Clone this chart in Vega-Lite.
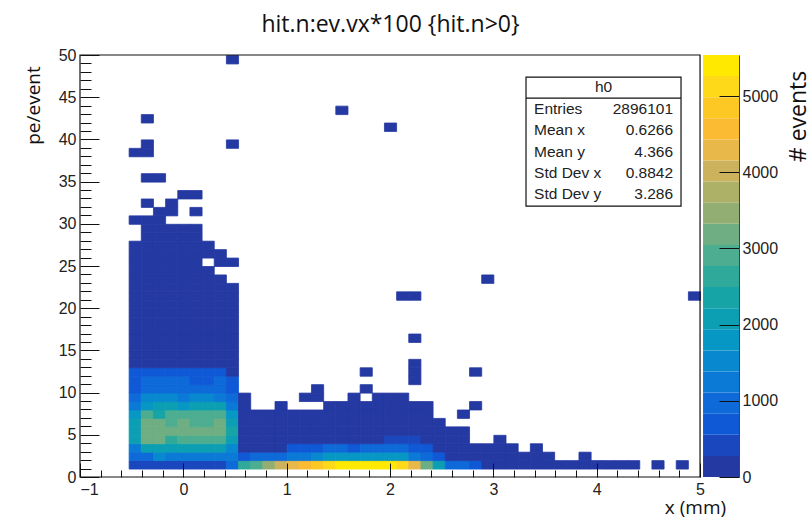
{"$schema":"https://vega.github.io/schema/vega-lite/v6.json","width":659,"height":422,"autosize":{"type":"none"},"padding":{"left":80,"top":55,"right":68,"bottom":40},"background":"white",
"title":{"text":"hit.n:ev.vx*100 {hit.n>0}","font":"Open Sans","fontSize":23,"fontWeight":"normal","color":"#111","anchor":"middle","dx":-19,"offset":10},
"config":{"view":{"stroke":null},"axis":{"labelFont":"Liberation Sans","labelFontSize":16,"labelColor":"#222","titleFont":"Open Sans","titleFontWeight":"normal","titleColor":"#111","titleFontSize":19,"grid":false,"tickColor":"#111","domainColor":"#111"}},
"datasets":{
"cells":[
{"x":-0.47,"y":1.5,"n":500},{"x":-0.47,"y":2.5,"n":900},{"x":-0.47,"y":3.5,"n":1300},{"x":-0.47,"y":4.5,"n":2000},{"x":-0.47,"y":5.5,"n":2000},{"x":-0.47,"y":6.5,"n":2000},{"x":-0.47,"y":7.5,"n":1700},{"x":-0.47,"y":8.5,"n":1300},{"x":-0.47,"y":9.5,"n":950},{"x":-0.47,"y":10.5,"n":800},{"x":-0.47,"y":11.5,"n":700},{"x":-0.47,"y":12.5,"n":600},
{"x":-0.35,"y":1.5,"n":500},{"x":-0.35,"y":2.5,"n":1000},{"x":-0.35,"y":3.5,"n":2000},{"x":-0.35,"y":4.5,"n":3100},{"x":-0.35,"y":5.5,"n":3250},{"x":-0.35,"y":6.5,"n":3250},{"x":-0.35,"y":7.5,"n":2900},{"x":-0.35,"y":8.5,"n":1800},{"x":-0.35,"y":9.5,"n":1500},{"x":-0.35,"y":10.5,"n":1100},{"x":-0.35,"y":11.5,"n":950},{"x":-0.35,"y":12.5,"n":600},
{"x":-0.24,"y":1.5,"n":500},{"x":-0.24,"y":2.5,"n":1400},{"x":-0.24,"y":3.5,"n":2000},{"x":-0.24,"y":4.5,"n":3100},{"x":-0.24,"y":5.5,"n":3250},{"x":-0.24,"y":6.5,"n":3250},{"x":-0.24,"y":7.5,"n":2300},{"x":-0.24,"y":8.5,"n":2100},{"x":-0.24,"y":9.5,"n":1500},{"x":-0.24,"y":10.5,"n":1100},{"x":-0.24,"y":11.5,"n":950},{"x":-0.24,"y":12.5,"n":600},
{"x":-0.12,"y":1.5,"n":500},{"x":-0.12,"y":2.5,"n":1200},{"x":-0.12,"y":3.5,"n":2000},{"x":-0.12,"y":4.5,"n":2700},{"x":-0.12,"y":5.5,"n":3250},{"x":-0.12,"y":6.5,"n":2900},{"x":-0.12,"y":7.5,"n":2800},{"x":-0.12,"y":8.5,"n":2100},{"x":-0.12,"y":9.5,"n":1500},{"x":-0.12,"y":10.5,"n":1100},{"x":-0.12,"y":11.5,"n":950},{"x":-0.12,"y":12.5,"n":600},
{"x":0,"y":1.5,"n":500},{"x":0,"y":2.5,"n":1300},{"x":0,"y":3.5,"n":2000},{"x":0,"y":4.5,"n":3000},{"x":0,"y":5.5,"n":3250},{"x":0,"y":6.5,"n":3250},{"x":0,"y":7.5,"n":2800},{"x":0,"y":8.5,"n":1800},{"x":0,"y":9.5,"n":1300},{"x":0,"y":10.5,"n":1100},{"x":0,"y":11.5,"n":950},{"x":0,"y":12.5,"n":600},
{"x":0.12,"y":1.5,"n":500},{"x":0.12,"y":2.5,"n":1200},{"x":0.12,"y":3.5,"n":2000},{"x":0.12,"y":4.5,"n":3000},{"x":0.12,"y":5.5,"n":3250},{"x":0.12,"y":6.5,"n":3000},{"x":0.12,"y":7.5,"n":2800},{"x":0.12,"y":8.5,"n":2100},{"x":0.12,"y":9.5,"n":1400},{"x":0.12,"y":10.5,"n":1100},{"x":0.12,"y":11.5,"n":700},{"x":0.12,"y":12.5,"n":600},
{"x":0.24,"y":1.5,"n":500},{"x":0.24,"y":2.5,"n":1200},{"x":0.24,"y":3.5,"n":2000},{"x":0.24,"y":4.5,"n":3000},{"x":0.24,"y":5.5,"n":3250},{"x":0.24,"y":6.5,"n":3000},{"x":0.24,"y":7.5,"n":2800},{"x":0.24,"y":8.5,"n":2100},{"x":0.24,"y":9.5,"n":1400},{"x":0.24,"y":10.5,"n":1100},{"x":0.24,"y":11.5,"n":700},{"x":0.24,"y":12.5,"n":600},
{"x":0.35,"y":1.5,"n":500},{"x":0.35,"y":2.5,"n":1200},{"x":0.35,"y":3.5,"n":2000},{"x":0.35,"y":4.5,"n":3000},{"x":0.35,"y":5.5,"n":3250},{"x":0.35,"y":6.5,"n":3250},{"x":0.35,"y":7.5,"n":2800},{"x":0.35,"y":8.5,"n":2000},{"x":0.35,"y":9.5,"n":1300},{"x":0.35,"y":10.5,"n":1100},{"x":0.35,"y":11.5,"n":950},{"x":0.35,"y":12.5,"n":600},
{"x":0.47,"y":1.5,"n":1100},{"x":0.47,"y":2.5,"n":1200},{"x":0.47,"y":3.5,"n":1500},{"x":0.47,"y":4.5,"n":2100},{"x":0.47,"y":5.5,"n":2400},{"x":0.47,"y":6.5,"n":2200},{"x":0.47,"y":7.5,"n":1900},{"x":0.47,"y":8.5,"n":1300},{"x":0.47,"y":9.5,"n":1000},{"x":0.47,"y":10.5,"n":800},{"x":0.47,"y":11.5,"n":700},{"x":0.47,"y":12.5,"n":200},
{"x":-0.47,"y":13.5,"n":150},{"x":-0.47,"y":14.5,"n":140},{"x":-0.47,"y":15.5,"n":120},{"x":-0.47,"y":16.5,"n":100},{"x":-0.47,"y":17.5,"n":90},{"x":-0.47,"y":18.5,"n":80},{"x":-0.47,"y":19.5,"n":60},{"x":-0.47,"y":20.5,"n":50},{"x":-0.47,"y":21.5,"n":40},{"x":-0.47,"y":22.5,"n":30},{"x":-0.47,"y":23.5,"n":20},{"x":-0.47,"y":24.5,"n":15},{"x":-0.47,"y":25.5,"n":10},{"x":-0.47,"y":26.5,"n":6},{"x":-0.47,"y":27.5,"n":3},{"x":-0.47,"y":30.5,"n":1},{"x":-0.47,"y":38.5,"n":1},
{"x":-0.35,"y":13.5,"n":200},{"x":-0.35,"y":14.5,"n":180},{"x":-0.35,"y":15.5,"n":160},{"x":-0.35,"y":16.5,"n":140},{"x":-0.35,"y":17.5,"n":120},{"x":-0.35,"y":18.5,"n":100},{"x":-0.35,"y":19.5,"n":80},{"x":-0.35,"y":20.5,"n":70},{"x":-0.35,"y":21.5,"n":60},{"x":-0.35,"y":22.5,"n":45},{"x":-0.35,"y":23.5,"n":35},{"x":-0.35,"y":24.5,"n":25},{"x":-0.35,"y":25.5,"n":18},{"x":-0.35,"y":26.5,"n":12},{"x":-0.35,"y":27.5,"n":8},{"x":-0.35,"y":28.5,"n":5},{"x":-0.35,"y":29.5,"n":3},{"x":-0.35,"y":30.5,"n":2},{"x":-0.35,"y":32.5,"n":1},{"x":-0.35,"y":35.5,"n":1},{"x":-0.35,"y":38.5,"n":1},{"x":-0.35,"y":39.5,"n":1},{"x":-0.35,"y":42.5,"n":1},
{"x":-0.24,"y":13.5,"n":200},{"x":-0.24,"y":14.5,"n":180},{"x":-0.24,"y":15.5,"n":160},{"x":-0.24,"y":16.5,"n":140},{"x":-0.24,"y":17.5,"n":120},{"x":-0.24,"y":18.5,"n":100},{"x":-0.24,"y":19.5,"n":80},{"x":-0.24,"y":20.5,"n":70},{"x":-0.24,"y":21.5,"n":60},{"x":-0.24,"y":22.5,"n":45},{"x":-0.24,"y":23.5,"n":35},{"x":-0.24,"y":24.5,"n":25},{"x":-0.24,"y":25.5,"n":18},{"x":-0.24,"y":26.5,"n":12},{"x":-0.24,"y":27.5,"n":8},{"x":-0.24,"y":28.5,"n":5},{"x":-0.24,"y":29.5,"n":3},{"x":-0.24,"y":30.5,"n":2},{"x":-0.24,"y":31.5,"n":1},{"x":-0.24,"y":35.5,"n":1},
{"x":-0.12,"y":13.5,"n":200},{"x":-0.12,"y":14.5,"n":180},{"x":-0.12,"y":15.5,"n":160},{"x":-0.12,"y":16.5,"n":140},{"x":-0.12,"y":17.5,"n":120},{"x":-0.12,"y":18.5,"n":100},{"x":-0.12,"y":19.5,"n":80},{"x":-0.12,"y":20.5,"n":70},{"x":-0.12,"y":21.5,"n":60},{"x":-0.12,"y":22.5,"n":45},{"x":-0.12,"y":23.5,"n":35},{"x":-0.12,"y":24.5,"n":25},{"x":-0.12,"y":25.5,"n":18},{"x":-0.12,"y":26.5,"n":12},{"x":-0.12,"y":27.5,"n":8},{"x":-0.12,"y":28.5,"n":5},{"x":-0.12,"y":29.5,"n":3},{"x":-0.12,"y":31.5,"n":1},{"x":-0.12,"y":32.5,"n":1},
{"x":0,"y":13.5,"n":200},{"x":0,"y":14.5,"n":180},{"x":0,"y":15.5,"n":160},{"x":0,"y":16.5,"n":140},{"x":0,"y":17.5,"n":120},{"x":0,"y":18.5,"n":100},{"x":0,"y":19.5,"n":80},{"x":0,"y":20.5,"n":70},{"x":0,"y":21.5,"n":60},{"x":0,"y":22.5,"n":45},{"x":0,"y":23.5,"n":35},{"x":0,"y":24.5,"n":25},{"x":0,"y":25.5,"n":18},{"x":0,"y":26.5,"n":12},{"x":0,"y":27.5,"n":8},{"x":0,"y":28.5,"n":5},{"x":0,"y":29.5,"n":3},{"x":0,"y":33.5,"n":1},
{"x":0.12,"y":13.5,"n":200},{"x":0.12,"y":14.5,"n":180},{"x":0.12,"y":15.5,"n":160},{"x":0.12,"y":16.5,"n":140},{"x":0.12,"y":17.5,"n":120},{"x":0.12,"y":18.5,"n":100},{"x":0.12,"y":19.5,"n":80},{"x":0.12,"y":20.5,"n":70},{"x":0.12,"y":21.5,"n":60},{"x":0.12,"y":22.5,"n":45},{"x":0.12,"y":23.5,"n":35},{"x":0.12,"y":24.5,"n":25},{"x":0.12,"y":25.5,"n":18},{"x":0.12,"y":26.5,"n":12},{"x":0.12,"y":27.5,"n":8},{"x":0.12,"y":28.5,"n":5},{"x":0.12,"y":29.5,"n":2},{"x":0.12,"y":31.5,"n":1},{"x":0.12,"y":33.5,"n":1},
{"x":0.24,"y":13.5,"n":190},{"x":0.24,"y":14.5,"n":170},{"x":0.24,"y":15.5,"n":150},{"x":0.24,"y":16.5,"n":130},{"x":0.24,"y":17.5,"n":110},{"x":0.24,"y":18.5,"n":90},{"x":0.24,"y":19.5,"n":70},{"x":0.24,"y":20.5,"n":60},{"x":0.24,"y":21.5,"n":50},{"x":0.24,"y":22.5,"n":35},{"x":0.24,"y":23.5,"n":25},{"x":0.24,"y":24.5,"n":15},{"x":0.24,"y":26.5,"n":3},{"x":0.24,"y":27.5,"n":2},
{"x":0.35,"y":13.5,"n":180},{"x":0.35,"y":14.5,"n":160},{"x":0.35,"y":15.5,"n":140},{"x":0.35,"y":16.5,"n":120},{"x":0.35,"y":17.5,"n":100},{"x":0.35,"y":18.5,"n":80},{"x":0.35,"y":19.5,"n":60},{"x":0.35,"y":20.5,"n":50},{"x":0.35,"y":21.5,"n":40},{"x":0.35,"y":22.5,"n":25},{"x":0.35,"y":23.5,"n":15},{"x":0.35,"y":25.5,"n":3},{"x":0.35,"y":26.5,"n":2},
{"x":0.47,"y":13.5,"n":120},{"x":0.47,"y":14.5,"n":100},{"x":0.47,"y":15.5,"n":90},{"x":0.47,"y":16.5,"n":70},{"x":0.47,"y":17.5,"n":55},{"x":0.47,"y":18.5,"n":40},{"x":0.47,"y":19.5,"n":30},{"x":0.47,"y":20.5,"n":20},{"x":0.47,"y":21.5,"n":12},{"x":0.47,"y":22.5,"n":6},{"x":0.47,"y":25.5,"n":1},{"x":0.47,"y":39.5,"n":1},{"x":0.47,"y":49.5,"n":1},
{"x":0.59,"y":1.5,"n":2500},{"x":0.59,"y":2.5,"n":600},{"x":0.59,"y":3.5,"n":200},{"x":0.59,"y":4.5,"n":120},{"x":0.59,"y":5.5,"n":70},{"x":0.59,"y":6.5,"n":40},{"x":0.59,"y":7.5,"n":20},{"x":0.59,"y":8.5,"n":8},{"x":0.59,"y":9.5,"n":2},
{"x":0.71,"y":1.5,"n":2800},{"x":0.71,"y":2.5,"n":900},{"x":0.71,"y":3.5,"n":200},{"x":0.71,"y":4.5,"n":120},{"x":0.71,"y":5.5,"n":70},{"x":0.71,"y":6.5,"n":30},{"x":0.71,"y":7.5,"n":8},
{"x":0.82,"y":1.5,"n":3400},{"x":0.82,"y":2.5,"n":900},{"x":0.82,"y":3.5,"n":200},{"x":0.82,"y":4.5,"n":120},{"x":0.82,"y":5.5,"n":70},{"x":0.82,"y":6.5,"n":30},{"x":0.82,"y":7.5,"n":8},
{"x":0.94,"y":1.5,"n":3900},{"x":0.94,"y":2.5,"n":1000},{"x":0.94,"y":3.5,"n":200},{"x":0.94,"y":4.5,"n":130},{"x":0.94,"y":5.5,"n":70},{"x":0.94,"y":6.5,"n":30},{"x":0.94,"y":7.5,"n":10},{"x":0.94,"y":8.5,"n":2},
{"x":1.06,"y":1.5,"n":4400},{"x":1.06,"y":2.5,"n":1300},{"x":1.06,"y":3.5,"n":700},{"x":1.06,"y":4.5,"n":150},{"x":1.06,"y":5.5,"n":80},{"x":1.06,"y":6.5,"n":35},{"x":1.06,"y":7.5,"n":10},
{"x":1.18,"y":1.5,"n":4700},{"x":1.18,"y":2.5,"n":1300},{"x":1.18,"y":3.5,"n":700},{"x":1.18,"y":4.5,"n":150},{"x":1.18,"y":5.5,"n":80},{"x":1.18,"y":6.5,"n":35},{"x":1.18,"y":7.5,"n":10},{"x":1.18,"y":9.5,"n":1},
{"x":1.29,"y":1.5,"n":4900},{"x":1.29,"y":2.5,"n":1500},{"x":1.29,"y":3.5,"n":700},{"x":1.29,"y":4.5,"n":160},{"x":1.29,"y":5.5,"n":80},{"x":1.29,"y":6.5,"n":35},{"x":1.29,"y":7.5,"n":10},{"x":1.29,"y":9.5,"n":1},{"x":1.29,"y":10.5,"n":1},
{"x":1.41,"y":1.5,"n":5100},{"x":1.41,"y":2.5,"n":1700},{"x":1.41,"y":3.5,"n":900},{"x":1.41,"y":4.5,"n":180},{"x":1.41,"y":5.5,"n":90},{"x":1.41,"y":6.5,"n":40},{"x":1.41,"y":7.5,"n":15},{"x":1.41,"y":8.5,"n":3},
{"x":1.53,"y":1.5,"n":5300},{"x":1.53,"y":2.5,"n":1800},{"x":1.53,"y":3.5,"n":900},{"x":1.53,"y":4.5,"n":180},{"x":1.53,"y":5.5,"n":90},{"x":1.53,"y":6.5,"n":40},{"x":1.53,"y":7.5,"n":15},{"x":1.53,"y":8.5,"n":3},{"x":1.53,"y":43.5,"n":1},
{"x":1.65,"y":1.5,"n":5500},{"x":1.65,"y":2.5,"n":1900},{"x":1.65,"y":3.5,"n":800},{"x":1.65,"y":4.5,"n":200},{"x":1.65,"y":5.5,"n":100},{"x":1.65,"y":6.5,"n":45},{"x":1.65,"y":7.5,"n":20},{"x":1.65,"y":8.5,"n":6},{"x":1.65,"y":9.5,"n":2},
{"x":1.76,"y":1.5,"n":5500},{"x":1.76,"y":2.5,"n":1900},{"x":1.76,"y":3.5,"n":950},{"x":1.76,"y":4.5,"n":220},{"x":1.76,"y":5.5,"n":110},{"x":1.76,"y":6.5,"n":50},{"x":1.76,"y":7.5,"n":20},{"x":1.76,"y":8.5,"n":4},{"x":1.76,"y":10.5,"n":1},{"x":1.76,"y":12.5,"n":1},
{"x":1.88,"y":1.5,"n":5500},{"x":1.88,"y":2.5,"n":1900},{"x":1.88,"y":3.5,"n":950},{"x":1.88,"y":4.5,"n":240},{"x":1.88,"y":5.5,"n":110},{"x":1.88,"y":6.5,"n":50},{"x":1.88,"y":7.5,"n":20},{"x":1.88,"y":8.5,"n":6},{"x":1.88,"y":9.5,"n":2},
{"x":2,"y":1.5,"n":5500},{"x":2,"y":2.5,"n":1900},{"x":2,"y":3.5,"n":950},{"x":2,"y":4.5,"n":500},{"x":2,"y":5.5,"n":120},{"x":2,"y":6.5,"n":50},{"x":2,"y":7.5,"n":20},{"x":2,"y":8.5,"n":6},{"x":2,"y":9.5,"n":2},{"x":2,"y":41.5,"n":1},
{"x":2.12,"y":1.5,"n":5100},{"x":2.12,"y":2.5,"n":1800},{"x":2.12,"y":3.5,"n":900},{"x":2.12,"y":4.5,"n":500},{"x":2.12,"y":5.5,"n":110},{"x":2.12,"y":6.5,"n":50},{"x":2.12,"y":7.5,"n":20},{"x":2.12,"y":8.5,"n":6},{"x":2.12,"y":9.5,"n":2},{"x":2.12,"y":21.5,"n":1},
{"x":2.24,"y":1.5,"n":4400},{"x":2.24,"y":2.5,"n":1200},{"x":2.24,"y":3.5,"n":800},{"x":2.24,"y":4.5,"n":500},{"x":2.24,"y":5.5,"n":90},{"x":2.24,"y":6.5,"n":40},{"x":2.24,"y":7.5,"n":15},{"x":2.24,"y":8.5,"n":3},{"x":2.24,"y":11.5,"n":1},{"x":2.24,"y":12.5,"n":1},{"x":2.24,"y":13.5,"n":1},{"x":2.24,"y":16.5,"n":1},{"x":2.24,"y":21.5,"n":1},
{"x":2.35,"y":1.5,"n":3100},{"x":2.35,"y":2.5,"n":1000},{"x":2.35,"y":3.5,"n":600},{"x":2.35,"y":4.5,"n":200},{"x":2.35,"y":5.5,"n":60},{"x":2.35,"y":6.5,"n":25},{"x":2.35,"y":7.5,"n":8},{"x":2.35,"y":8.5,"n":2},
{"x":2.47,"y":1.5,"n":2000},{"x":2.47,"y":2.5,"n":700},{"x":2.47,"y":3.5,"n":200},{"x":2.47,"y":4.5,"n":100},{"x":2.47,"y":5.5,"n":30},{"x":2.47,"y":6.5,"n":5},
{"x":2.59,"y":1.5,"n":1100},{"x":2.59,"y":2.5,"n":250},{"x":2.59,"y":3.5,"n":100},{"x":2.59,"y":4.5,"n":30},{"x":2.59,"y":5.5,"n":5},
{"x":2.71,"y":1.5,"n":950},{"x":2.71,"y":2.5,"n":200},{"x":2.71,"y":3.5,"n":60},{"x":2.71,"y":4.5,"n":15},{"x":2.71,"y":5.5,"n":3},{"x":2.71,"y":7.5,"n":1},
{"x":2.82,"y":1.5,"n":700},{"x":2.82,"y":2.5,"n":120},{"x":2.82,"y":3.5,"n":10},{"x":2.82,"y":8.5,"n":1},{"x":2.82,"y":12.5,"n":1},
{"x":2.94,"y":1.5,"n":200},{"x":2.94,"y":2.5,"n":60},{"x":2.94,"y":3.5,"n":5},{"x":2.94,"y":23.5,"n":1},
{"x":3.06,"y":1.5,"n":150},{"x":3.06,"y":2.5,"n":40},{"x":3.06,"y":3.5,"n":5},{"x":3.06,"y":4.5,"n":1},
{"x":3.18,"y":1.5,"n":100},{"x":3.18,"y":2.5,"n":25},{"x":3.18,"y":3.5,"n":2},
{"x":3.29,"y":1.5,"n":70},{"x":3.29,"y":2.5,"n":12},
{"x":3.41,"y":1.5,"n":50},{"x":3.41,"y":2.5,"n":8},{"x":3.41,"y":3.5,"n":1},
{"x":3.53,"y":1.5,"n":30},{"x":3.53,"y":2.5,"n":4},
{"x":3.65,"y":1.5,"n":20},{"x":3.76,"y":1.5,"n":15},
{"x":3.88,"y":1.5,"n":12},{"x":3.88,"y":2.5,"n":1},
{"x":4,"y":1.5,"n":8},{"x":4.12,"y":1.5,"n":6},{"x":4.24,"y":1.5,"n":4},{"x":4.35,"y":1.5,"n":3},{"x":4.59,"y":1.5,"n":2},{"x":4.82,"y":1.5,"n":1},{"x":4.94,"y":21.5,"n":1}
],
"levels":[{"lo":0,"hi":277,"n":138},{"lo":277,"hi":554,"n":415},{"lo":554,"hi":831,"n":692},{"lo":831,"hi":1108,"n":970},{"lo":1108,"hi":1385,"n":1246},{"lo":1385,"hi":1662,"n":1523},{"lo":1662,"hi":1939,"n":1800},{"lo":1939,"hi":2216,"n":2077},{"lo":2216,"hi":2493,"n":2354},{"lo":2493,"hi":2770,"n":2631},{"lo":2770,"hi":3047,"n":2908},{"lo":3047,"hi":3324,"n":3185},{"lo":3324,"hi":3601,"n":3462},{"lo":3601,"hi":3878,"n":3739},{"lo":3878,"hi":4155,"n":4016},{"lo":4155,"hi":4432,"n":4293},{"lo":4432,"hi":4709,"n":4570},{"lo":4709,"hi":4986,"n":4847},{"lo":4986,"hi":5263,"n":5124},{"lo":5263,"hi":5540,"n":5401}],
"stats":[{"stat":"Entries","value":"2896101"},{"stat":"Mean x","value":"0.6266"},{"stat":"Mean y","value":"4.366"},{"stat":"Std Dev x","value":"0.8842"},{"stat":"Std Dev y","value":"3.286"}]
},
"layer":[
{"layer":[
{"data":{"name":"cells"},"mark":{"type":"rect","strokeWidth":0.8},"encoding":{
"x":{"field":"x","type":"quantitative","bin":{"extent":[-1,5],"step":0.117647,"nice":false},"axis":null,"scale":{"domain":[-1,5.377],"nice":false,"zero":false}},
"y":{"field":"y","type":"quantitative","bin":{"extent":[0,50],"step":1,"nice":false},"axis":null,"scale":{"domain":[0,50],"nice":false,"zero":false}},
"color":{"field":"n","type":"quantitative","legend":null,"scale":{"type":"quantize","domain":[0,5540],"range":["#2539a2","#1a47bd","#0f59d6","#0e69d9","#0b79d6","#0788cf","#0797c4","#0c9fb4","#17a4a6","#2fa99a","#4dad90","#6fae82","#93ae72","#adb067","#ccb25c","#e8b84b","#fbbb33","#fdc823","#fed91a","#ffe900"]}},
"stroke":{"field":"n","type":"quantitative","legend":null,"scale":{"type":"quantize","domain":[0,5540],"range":["#2539a2","#1a47bd","#0f59d6","#0e69d9","#0b79d6","#0788cf","#0797c4","#0c9fb4","#17a4a6","#2fa99a","#4dad90","#6fae82","#93ae72","#adb067","#ccb25c","#e8b84b","#fbbb33","#fdc823","#fed91a","#ffe900"]}}}},
{"data":{"values":[{}]},"mark":{"type":"rect","fill":null,"stroke":"#111","strokeWidth":1.2},"encoding":{
"x":{"datum":-1,"type":"quantitative","axis":{"orient":"bottom","values":[-1,0,1,2,3,4,5],"format":"d","tickSize":-14,"domain":false,"zindex":1,"labelPadding":18,"title":"x (mm)","titleX":615,"titleY":30,"titleAlign":"center","titleBaseline":"middle"}},"x2":{"datum":5},
"y":{"datum":0,"type":"quantitative","axis":{"orient":"left","values":[0,5,10,15,20,25,30,35,40,45,50],"format":"d","tickSize":-19,"domain":false,"zindex":1,"labelPadding":23,"title":"pe/event","titleX":-47,"titleY":50,"titleAngle":270,"titleAlign":"center","titleBaseline":"middle"}},"y2":{"datum":50}}},
{"data":{"values":[{}]},"mark":{"type":"rect","opacity":0},"encoding":{
"x":{"datum":0,"type":"quantitative","axis":{"orient":"bottom","values":[-0.8,-0.6,-0.4,-0.2,0.2,0.4,0.6,0.8,1.2,1.4,1.6,1.8,2.2,2.4,2.6,2.8,3.2,3.4,3.6,3.8,4.2,4.4,4.6,4.8],"labels":false,"tickSize":-7,"domain":false,"zindex":1,"title":null}},"x2":{"datum":0},
"y":{"datum":0,"type":"quantitative","axis":{"orient":"left","values":[1,2,3,4,6,7,8,9,11,12,13,14,16,17,18,19,21,22,23,24,26,27,28,29,31,32,33,34,36,37,38,39,41,42,43,44,46,47,48,49],"labels":false,"tickSize":-11,"domain":false,"zindex":1,"title":null}},"y2":{"datum":0}}},
{"data":{"values":[{}]},"mark":{"type":"rect","fill":"white","stroke":"#111","strokeWidth":1.2},"encoding":{"x":{"datum":3.316,"type":"quantitative","axis":null},"x2":{"datum":4.816},"y":{"datum":32.1,"type":"quantitative","axis":null},"y2":{"datum":47.39}}},
{"data":{"values":[{}]},"mark":{"type":"rule","stroke":"#111","strokeWidth":1.2},"encoding":{"x":{"datum":3.316,"type":"quantitative","axis":null},"x2":{"datum":4.816},"y":{"datum":44.9,"type":"quantitative","axis":null}}},
{"data":{"values":[{}]},"mark":{"type":"text","font":"Liberation Sans","fontSize":15.5,"color":"#222","baseline":"middle","align":"center"},"encoding":{"x":{"datum":4.066,"type":"quantitative","axis":null},"y":{"datum":46.2,"type":"quantitative","axis":null},"text":{"value":"h0"}}}
],"resolve":{"axis":{"x":"independent","y":"independent"}}},
{"data":{"name":"levels"},"mark":{"type":"rect","strokeWidth":0.5},"encoding":{
"x":{"datum":5.029,"type":"quantitative","axis":null},"x2":{"datum":5.377},
"y":{"field":"lo","type":"quantitative","scale":{"domain":[0,5540],"nice":false,"zero":false},"axis":{"orient":"right","values":[0,1000,2000,3000,4000,5000],"format":"d","tickSize":-20,"labelPadding":23,"domainColor":"#444","zindex":1,"title":"# events","titleFontSize":23,"titleX":59,"titleY":61,"titleAngle":270,"titleAlign":"center","titleBaseline":"middle"}},
"y2":{"field":"hi"},
"color":{"field":"n","type":"quantitative","legend":null,"scale":{"type":"quantize","domain":[0,5540],"range":["#2539a2","#1a47bd","#0f59d6","#0e69d9","#0b79d6","#0788cf","#0797c4","#0c9fb4","#17a4a6","#2fa99a","#4dad90","#6fae82","#93ae72","#adb067","#ccb25c","#e8b84b","#fbbb33","#fdc823","#fed91a","#ffe900"]}}}},
{"data":{"name":"stats"},"mark":{"type":"text","font":"Liberation Sans","fontSize":15.5,"color":"#222","align":"left","baseline":"middle"},"encoding":{
"x":{"datum":3.394,"type":"quantitative","axis":null},
"y":{"field":"stat","type":"ordinal","sort":null,"axis":null,"scale":{"type":"point","padding":0,"range":[54,139]}},
"text":{"field":"stat"}}},
{"data":{"name":"stats"},"mark":{"type":"text","font":"Liberation Sans","fontSize":15.5,"color":"#222","align":"right","baseline":"middle"},"encoding":{
"x":{"datum":4.739,"type":"quantitative","axis":null},
"y":{"field":"stat","type":"ordinal","sort":null,"axis":null,"scale":{"type":"point","padding":0,"range":[54,139]}},
"text":{"field":"value"}}}
],
"resolve":{"scale":{"y":"independent"},"axis":{"y":"independent"}}}
